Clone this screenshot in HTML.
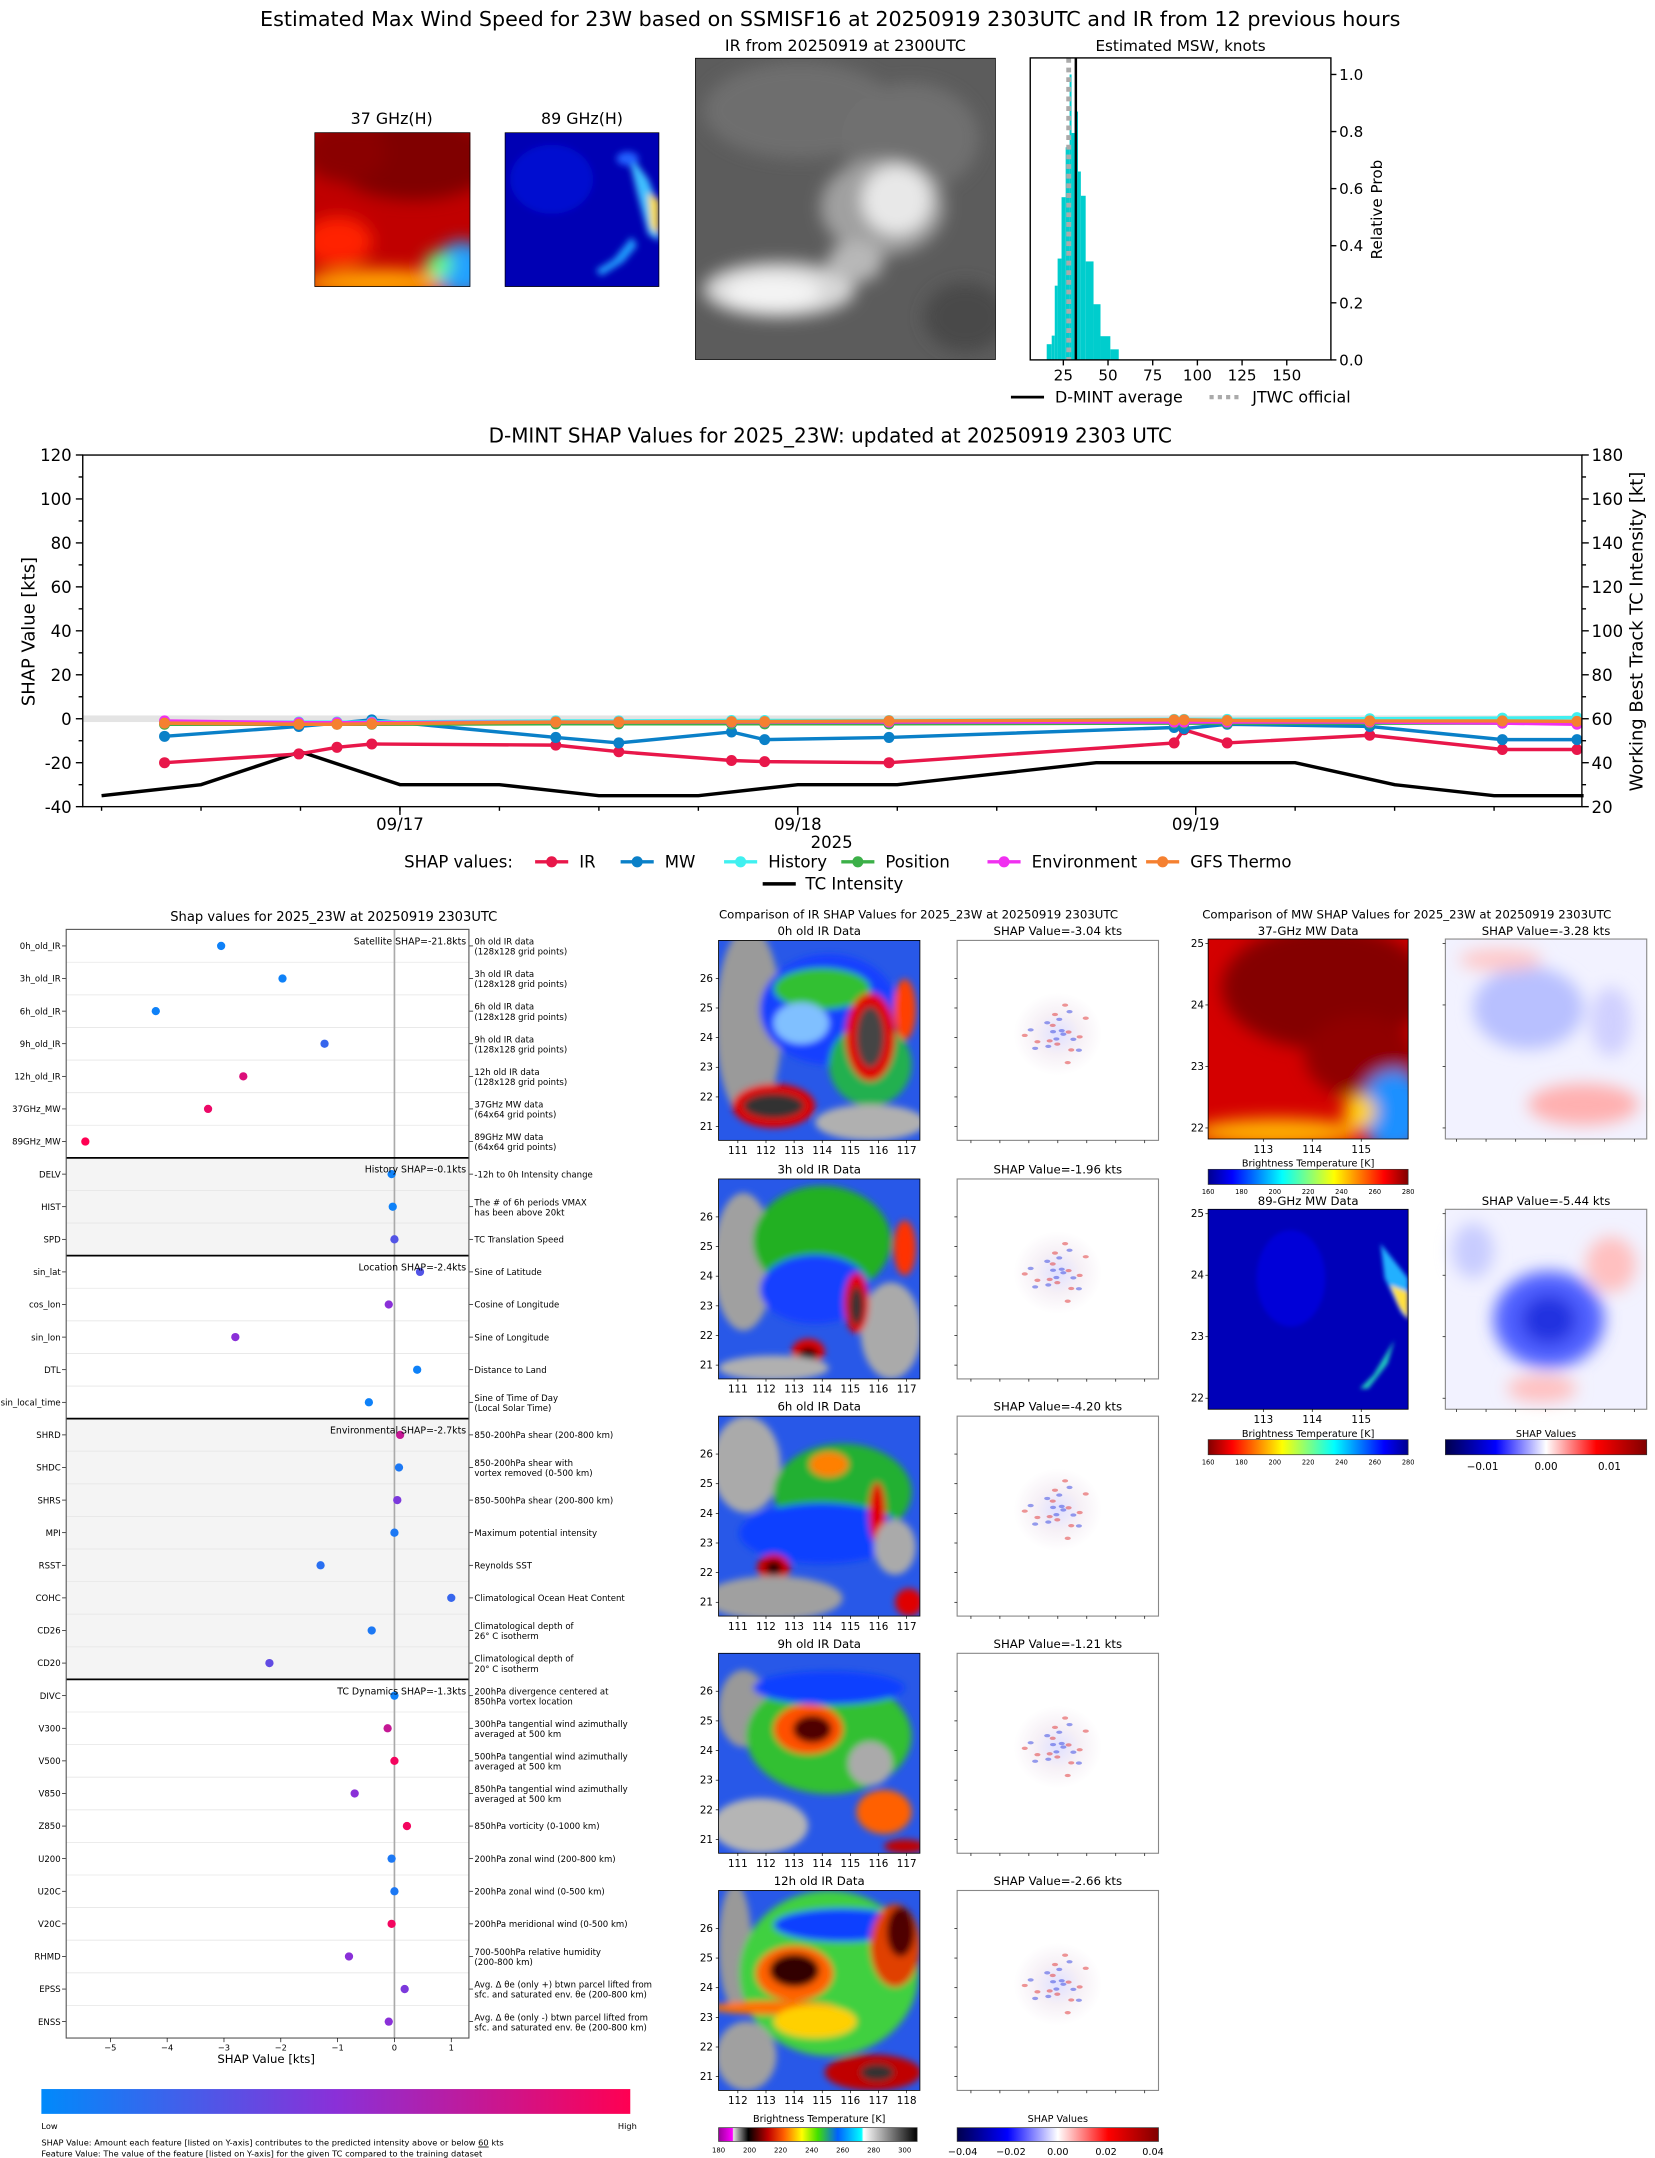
<!DOCTYPE html>
<html><head><meta charset="utf-8"><style>
html,body{margin:0;padding:0;background:#fff;}
svg{display:block;font-family:"DejaVu Sans","Liberation Sans",sans-serif;}
</style></head><body>
<svg id="fig" width="1655" height="2158" viewBox="0 0 1200 1565" preserveAspectRatio="none" xmlns="http://www.w3.org/2000/svg">
<defs>
<filter id="b3" x="-20%" y="-20%" width="140%" height="140%"><feGaussianBlur stdDeviation="2.5"/></filter>
<filter id="b6" x="-30%" y="-30%" width="160%" height="160%"><feGaussianBlur stdDeviation="6"/></filter>
<filter id="b2"><feGaussianBlur stdDeviation="1.5"/></filter>
<linearGradient id="jet" x1="0" x2="1"><stop offset="0" stop-color="#00008f"/><stop offset=".12" stop-color="#0000ff"/><stop offset=".37" stop-color="#00ffff"/><stop offset=".5" stop-color="#80ff80"/><stop offset=".63" stop-color="#ffff00"/><stop offset=".88" stop-color="#ff0000"/><stop offset="1" stop-color="#800000"/></linearGradient>
<linearGradient id="jetr" x1="1" x2="0"><stop offset="0" stop-color="#00008f"/><stop offset=".12" stop-color="#0000ff"/><stop offset=".37" stop-color="#00ffff"/><stop offset=".5" stop-color="#80ff80"/><stop offset=".63" stop-color="#ffff00"/><stop offset=".88" stop-color="#ff0000"/><stop offset="1" stop-color="#800000"/></linearGradient>
<linearGradient id="seis" x1="0" x2="1"><stop offset="0" stop-color="#00004c"/><stop offset=".25" stop-color="#0000ff"/><stop offset=".5" stop-color="#ffffff"/><stop offset=".75" stop-color="#ff0000"/><stop offset="1" stop-color="#800000"/></linearGradient>
<linearGradient id="irc" x1="0" x2="1"><stop offset="0" stop-color="#9a009a"/><stop offset=".07" stop-color="#ff00ff"/><stop offset=".075" stop-color="#e0e0e0"/><stop offset=".15" stop-color="#000"/><stop offset=".25" stop-color="#c00000"/><stop offset=".33" stop-color="#ff6000"/><stop offset=".42" stop-color="#ffff00"/><stop offset=".5" stop-color="#40e000"/><stop offset=".6" stop-color="#0060ff"/><stop offset=".72" stop-color="#00ffff"/><stop offset=".73" stop-color="#ffffff"/><stop offset="1" stop-color="#000"/></linearGradient>
<linearGradient id="scat" x1="0" x2="1"><stop offset="0" stop-color="#008afb"/><stop offset=".5" stop-color="#8a30d8"/><stop offset="1" stop-color="#ff0052"/></linearGradient>
<radialGradient id="shapc"><stop offset="0" stop-color="#e0e0ff"/><stop offset=".5" stop-color="#f6f0f6"/><stop offset="1" stop-color="#fff"/></radialGradient>
<clipPath id="c37"><rect x="228" y="96" width="113" height="112"/></clipPath>
<clipPath id="c89"><rect x="366" y="96" width="112" height="112"/></clipPath>
<clipPath id="cir"><rect x="504" y="42" width="218" height="219"/></clipPath>
</defs>
<rect width="1200" height="1565" fill="#fff"/>
<text x="602" y="19" font-size="15" text-anchor="middle">Estimated Max Wind Speed for 23W based on SSMISF16 at 20250919 2303UTC and IR from 12 previous hours</text>

<text x="284" y="90" font-size="11.5" text-anchor="middle">37 GHz(H)</text>
<g clip-path="url(#c37)">
<rect x="228" y="96" width="113" height="112" fill="#c00000"/>
<g filter="url(#b6)">
<ellipse cx="300" cy="115" rx="60" ry="30" fill="#800000"/>
<ellipse cx="250" cy="110" rx="30" ry="22" fill="#8a0000"/>
<ellipse cx="245" cy="175" rx="25" ry="18" fill="#ff2000"/>
<ellipse cx="275" cy="205" rx="55" ry="10" fill="#ffa000"/>
<ellipse cx="335" cy="195" rx="20" ry="20" fill="#20a0ff"/>
<ellipse cx="318" cy="192" rx="10" ry="9" fill="#60ff80"/>
</g>
<rect x="228" y="96" width="113" height="112" fill="none" stroke="#000" stroke-width="1"/>
</g>
<text x="422" y="90" font-size="11.5" text-anchor="middle">89 GHz(H)</text>
<g clip-path="url(#c89)">
<rect x="366" y="96" width="112" height="112" fill="#0000b4"/>
<g filter="url(#b3)">
<ellipse cx="400" cy="130" rx="30" ry="25" fill="#0010d0"/>
<path d="M455 110 L470 130 L478 150 L478 175 L470 170 L462 140 Z" fill="#40c0ff"/>
<path d="M470 140 L478 145 L478 170 L472 165 Z" fill="#ffe040"/>
<path d="M458 172 L445 188 L432 196 L436 200 L452 190 L462 178 Z" fill="#20a0ff"/>
<ellipse cx="455" cy="115" rx="8" ry="5" fill="#2060ff"/>
</g>
<rect x="366" y="96" width="112" height="112" fill="none" stroke="#000" stroke-width="1"/>
</g>
<text x="613" y="37" font-size="11.5" text-anchor="middle">IR from 20250919 at 2300UTC</text>
<g clip-path="url(#cir)">
<rect x="504" y="42" width="218" height="219" fill="#5c5c5c"/>
<g filter="url(#b6)">
<ellipse cx="580" cy="80" rx="70" ry="35" fill="#6e6e6e"/>
<ellipse cx="660" cy="100" rx="50" ry="40" fill="#707070"/>
<ellipse cx="640" cy="150" rx="45" ry="35" fill="#a0a0a0"/>
<ellipse cx="650" cy="145" rx="25" ry="25" fill="#e8e8e8"/>
<ellipse cx="565" cy="210" rx="55" ry="20" fill="#d8d8d8"/>
<ellipse cx="560" cy="212" rx="35" ry="12" fill="#f4f4f4"/>
<ellipse cx="620" cy="190" rx="20" ry="15" fill="#b8b8b8"/>
<ellipse cx="700" cy="230" rx="30" ry="25" fill="#4a4a4a"/>
</g>
<rect x="504" y="42" width="218" height="219" fill="none" stroke="#000" stroke-width="1"/>
</g>
<text x="856" y="37" font-size="11" text-anchor="middle">Estimated MSW, knots</text>
<g id="hist"></g>
<text transform="translate(1002,152) rotate(-90)" font-size="11" text-anchor="middle">Relative Prob</text>
<g>
<line x1="733" y1="288" x2="757" y2="288" stroke="#000" stroke-width="2"/>
<text x="765" y="292" font-size="11.5">D-MINT average</text>
<line x1="877" y1="288" x2="900" y2="288" stroke="#aaa" stroke-width="3" stroke-dasharray="3,3"/>
<text x="908" y="292" font-size="11.5">JTWC official</text>
</g>

<text x="602" y="321" font-size="14.5" text-anchor="middle">D-MINT SHAP Values for 2025_23W: updated at 20250919 2303 UTC</text>
<g id="ts"></g>
<text transform="translate(25,458) rotate(-90)" font-size="13" text-anchor="middle">SHAP Value [kts]</text>
<text transform="translate(1191,458) rotate(-90)" font-size="13" text-anchor="middle">Working Best Track TC Intensity [kt]</text>
<text x="603" y="615" font-size="12" text-anchor="middle">2025</text>
<g id="tsleg"></g>

<text x="242" y="668" font-size="9.5" text-anchor="middle">Shap values for 2025_23W at 20250919 2303UTC</text>
<g id="feat"></g>
<text x="193" y="1496" font-size="8.5" text-anchor="middle">SHAP Value [kts]</text>
<rect x="30" y="1515" width="427" height="18" fill="url(#scat)"/>
<text x="30" y="1544" font-size="6">Low</text>
<text x="448" y="1544" font-size="6">High</text>
<text x="30" y="1556" font-size="6">SHAP Value: Amount each feature [listed on Y-axis] contributes to the predicted intensity above or below <tspan text-decoration="underline">60</tspan> kts</text>
<text x="30" y="1564" font-size="6">Feature Value: The value of the feature [listed on Y-axis] for the given TC compared to the training dataset</text>

<text x="666" y="666" font-size="8.5" text-anchor="middle">Comparison of IR SHAP Values for 2025_23W at 20250919 2303UTC</text>
<g id="irpanels"></g>
<text x="594" y="1539" font-size="7" text-anchor="middle">Brightness Temperature [K]</text>
<rect x="521" y="1543" width="144" height="10" fill="url(#irc)" stroke="#333" stroke-width=".5"/>
<g id="ircbt" font-size="5" text-anchor="middle"></g>
<text x="767" y="1539" font-size="7" text-anchor="middle">SHAP Values</text>
<rect x="694" y="1543" width="146" height="10" fill="url(#seis)" stroke="#333" stroke-width=".5"/>
<g font-size="7" text-anchor="middle">
<text x="698" y="1563">−0.04</text><text x="733" y="1563">−0.02</text><text x="767" y="1563">0.00</text><text x="802" y="1563">0.02</text><text x="836" y="1563">0.04</text></g>

<text x="1020" y="666" font-size="8.5" text-anchor="middle">Comparison of MW SHAP Values for 2025_23W at 20250919 2303UTC</text>
<g id="mwpanels"></g>
</svg>
<script>
const NS='http://www.w3.org/2000/svg';
function mk(p,tag,a,txt){const e=document.createElementNS(NS,tag);for(const k in a)e.setAttribute(k,a[k]);if(txt!==undefined)e.textContent=txt;p.appendChild(e);return e;}

/* ---------- histogram data ---------- */
const histEdges=[15.7,18.5,20.2,21.8,24,26.3,28.5,29.6,31.4,33.2,34.8,37.5,41.9,45.8,51.3,56];
const histProb=[0.055,0.085,0.26,0.355,0.57,0.745,1.0,0.795,0.87,0.66,0.575,0.345,0.195,0.083,0.037];
const histXTicks=[25,50,75,100,125,150];
const histYTicks=[0,0.2,0.4,0.6,0.8,1.0];
const dmintAvg=32;
const jtwcOfficial=28;
(function(){
 const g=document.getElementById('hist');
 const X=v=>738.6+v*1.296, Y=v=>261-v*207;
 for(let i=0;i<histProb.length;i++){
  const r=mk(g,'rect',{x:X(histEdges[i]),y:Y(histProb[i]),width:X(histEdges[i+1])-X(histEdges[i]),height:261-Y(histProb[i]),fill:'#00cdcd'});
  
  
 }
 const jl=mk(g,'line',{x1:X(jtwcOfficial),x2:X(jtwcOfficial),y1:42,y2:261,stroke:'#aaa','stroke-width':3.5,'stroke-dasharray':'3.5,3.5'});
 
 
 const dl=mk(g,'line',{x1:X(dmintAvg),x2:X(dmintAvg),y1:42,y2:261,stroke:'#000','stroke-width':1.8});
 
 
 mk(g,'rect',{x:747,y:42,width:218,height:219,fill:'none',stroke:'#000','stroke-width':1});
 histXTicks.forEach(t=>{mk(g,'line',{x1:X(t),x2:X(t),y1:261,y2:265,stroke:'#000'});
  const tx=mk(g,'text',{x:X(t),y:276,'font-size':11,'text-anchor':'middle'},String(t));
  
  });
 histYTicks.forEach(t=>{mk(g,'line',{x1:965,x2:969,y1:Y(t),y2:Y(t),stroke:'#000'});
  const tx=mk(g,'text',{x:971,y:Y(t)+4,'font-size':11},t.toFixed(1));
  
  });
})();

/* ---------- time series data ---------- */
const tsHours=[9.8,17.9,20.2,22.3,33.4,37.2,44.0,46.0,53.5,70.7,71.3,73.9,82.5,90.5,95.0];
const shapIR=[-20,-16,-13,-11.5,-12,-15,-19,-19.5,-20,-11,-5,-11,-7.5,-14,-14];
const shapMW=[-8,-3.5,-2,-0.5,-8.5,-11,-6,-9.5,-8.5,-4,-4.5,-2.5,-3.5,-9.5,-9.5];
const shapHist=[-1.5,-1.5,-1.5,-1.5,-1,-1,-0.8,-0.8,-0.8,-0.3,-0.3,-0.3,0,0.3,0.5];
const shapPos=[-2.5,-2.5,-2.5,-2.5,-2.3,-2.3,-2.3,-2.3,-2.3,-2,-2,-2,-2,-2,-2];
const shapEnv=[-1,-1.8,-1.8,-1.8,-1.5,-1.5,-1.5,-1.5,-1.5,-1.5,-1.5,-1.5,-1.5,-2,-2.5];
const shapGFS=[-2,-2.5,-2.5,-2.3,-1.5,-1.5,-1.3,-1.3,-1,-0.5,-0.5,-0.8,-1,-1,-1.2];
const tcHours=[6,12,18,24,30,36,42,48,54,60,66,72,78,84,90,95.4];
const tcIntensity=[25,30,45,30,30,25,25,30,30,35,40,40,40,30,25,25];
const leftTicks=[-40,-20,0,20,40,60,80,100,120];
const rightTicks=[20,40,60,80,100,120,140,160,180];
const dateTicks=[[24,'09/17'],[48,'09/18'],[72,'09/19']];
const seriesNames=['IR','MW','History','Position','Environment','GFS Thermo'];
const seriesColors=['#e8174a','#0a80c8','#40f0f0','#3cb048','#f030f0','#f58030'];
(function(){
 const g=document.getElementById('ts');
 const X=h=>290+(h-24)*12.02, Y=v=>585-(v+40)*1.594, YR=v=>Y(v-60);
 mk(g,'rect',{x:60,y:Y(1.5),width:1087,height:Y(-1.5)-Y(1.5),fill:'#e4e4e4'});
 const tc=mk(g,'polyline',{points:tcHours.map((h,i)=>X(h)+','+YR(tcIntensity[i])).join(' '),fill:'none',stroke:'#000','stroke-width':2.5});
 
 
 const all=[shapIR,shapMW,shapHist,shapPos,shapEnv,shapGFS];
 all.forEach((s,k)=>{
  const ln=mk(g,'polyline',{points:tsHours.map((h,i)=>X(h)+','+Y(s[i])).join(' '),fill:'none',stroke:seriesColors[k],'stroke-width':2.5});
  
  
  tsHours.forEach((h,i)=>{const c=mk(g,'circle',{cx:X(h),cy:Y(s[i]),r:4,fill:seriesColors[k]});
   
   });
 });
 mk(g,'rect',{x:60,y:330,width:1087,height:255,fill:'none',stroke:'#000','stroke-width':1});
 leftTicks.forEach(t=>{mk(g,'line',{x1:55,x2:60,y1:Y(t),y2:Y(t),stroke:'#000'});
  const tx=mk(g,'text',{x:52,y:Y(t)+4.5,'font-size':12,'text-anchor':'end'},String(t));
  
  });
 for(let v=-30;v<120;v+=20){mk(g,'line',{x1:57,x2:60,y1:Y(v),y2:Y(v),stroke:'#000'});}
 rightTicks.forEach(t=>{mk(g,'line',{x1:1147,x2:1152,y1:YR(t),y2:YR(t),stroke:'#000'});
  const tx=mk(g,'text',{x:1154,y:YR(t)+4.5,'font-size':12},String(t));
  
  });
 for(let v=30;v<180;v+=20){mk(g,'line',{x1:1147,x2:1150,y1:YR(v),y2:YR(v),stroke:'#000'});}
 for(let h=6;h<96;h+=6){mk(g,'line',{x1:X(h),x2:X(h),y1:585,y2:588,stroke:'#000'});}
 dateTicks.forEach(d=>{mk(g,'line',{x1:X(d[0]),x2:X(d[0]),y1:585,y2:591,stroke:'#000'});
  const tx=mk(g,'text',{x:X(d[0]),y:602,'font-size':12,'text-anchor':'middle'},d[1]);
  
  });
 const L=document.getElementById('tsleg');
 mk(L,'text',{x:293,y:629,'font-size':12},'SHAP values:');
 const lx=[388,450,525,610,716,831];
 seriesNames.forEach((n,k)=>{
  mk(L,'line',{x1:lx[k],x2:lx[k]+24,y1:625,y2:625,stroke:seriesColors[k],'stroke-width':2.5});
  mk(L,'circle',{cx:lx[k]+12,cy:625,r:4,fill:seriesColors[k]});
  const t=mk(L,'text',{x:lx[k]+32,y:629,'font-size':12},n);
  
  
 });
 mk(L,'line',{x1:553,x2:577,y1:641,y2:641,stroke:'#000','stroke-width':2.5});
 mk(L,'text',{x:584,y:645,'font-size':12},'TC Intensity');
})();

/* ---------- feature SHAP data ---------- */
const featNames=['0h_old_IR','3h_old_IR','6h_old_IR','9h_old_IR','12h_old_IR','37GHz_MW','89GHz_MW','DELV','HIST','SPD','sin_lat','cos_lon','sin_lon','DTL','sin_local_time','SHRD','SHDC','SHRS','MPI','RSST','COHC','CD26','CD20','DIVC','V300','V500','V850','Z850','U200','U20C','V20C','RHMD','EPSS','ENSS'];
const featShap=[-3.05,-1.97,-4.2,-1.23,-2.66,-3.28,-5.44,-0.05,-0.03,0,0.45,-0.1,-2.8,0.4,-0.45,0.1,0.08,0.05,0,-1.3,1.0,-0.4,-2.2,0,-0.12,0,-0.7,0.22,-0.05,0,-0.05,-0.8,0.18,-0.1];
const featValue=[0.05,0.05,0.05,0.2,0.85,0.92,1.0,0.05,0.05,0.3,0.3,0.5,0.5,0.05,0.05,0.75,0.1,0.45,0.1,0.15,0.2,0.1,0.35,0.05,0.75,0.95,0.5,0.95,0.1,0.1,0.95,0.5,0.45,0.5];
const featDesc=['0h old IR data|(128x128 grid points)','3h old IR data|(128x128 grid points)','6h old IR data|(128x128 grid points)','9h old IR data|(128x128 grid points)','12h old IR data|(128x128 grid points)','37GHz MW data|(64x64 grid points)','89GHz MW data|(64x64 grid points)','-12h to 0h Intensity change','The # of 6h periods VMAX|has been above 20kt','TC Translation Speed','Sine of Latitude','Cosine of Longitude','Sine of Longitude','Distance to Land','Sine of Time of Day|(Local Solar Time)','850-200hPa shear (200-800 km)','850-200hPa shear with|vortex removed (0-500 km)','850-500hPa shear (200-800 km)','Maximum potential intensity','Reynolds SST','Climatological Ocean Heat Content','Climatological depth of|26° C isotherm','Climatological depth of|20° C isotherm','200hPa divergence centered at|850hPa vortex location','300hPa tangential wind azimuthally|averaged at 500 km','500hPa tangential wind azimuthally|averaged at 500 km','850hPa tangential wind azimuthally|averaged at 500 km','850hPa vorticity (0-1000 km)','200hPa zonal wind (200-800 km)','200hPa zonal wind (0-500 km)','200hPa meridional wind (0-500 km)','700-500hPa relative humidity|(200-800 km)','Avg. Δ θe (only +) btwn parcel lifted from|sfc. and saturated env. θe (200-800 km)','Avg. Δ θe (only -) btwn parcel lifted from|sfc. and saturated env. θe (200-800 km)'];
const groupNames=['Satellite SHAP=-21.8kts','History SHAP=-0.1kts','Location SHAP=-2.4kts','Environmental SHAP=-2.7kts','TC Dynamics SHAP=-1.3kts'];
const groupStart=[0,7,10,15,23];
const featXTicks=[-5,-4,-3,-2,-1,0,1];
function lerpC(a,b,t){return a.map((v,i)=>Math.round(v+(b[i]-v)*t));}
function scatCol(t){const c0=[0,138,251],c1=[138,48,216],c2=[255,0,82];const c=t<.5?lerpC(c0,c1,t*2):lerpC(c1,c2,(t-.5)*2);return 'rgb('+c.join(',')+')';}
(function(){
 const g=document.getElementById('feat');
 const X=v=>286+v*41.2, Y=i=>686+i*23.64;
 const top=674,bot=1478;
 [1,3].forEach(p=>{const a=groupStart[p],b=groupStart[p+1];
  mk(g,'rect',{x:48,y:Y(a)-11.8,width:292,height:(b-a)*23.64,fill:'#f4f4f4'});});
 featNames.forEach((n,i)=>{
  if(i>0)mk(g,'line',{x1:48,x2:340,y1:Y(i)-11.8,y2:Y(i)-11.8,stroke:'#e6e6e6','stroke-width':.6});
  mk(g,'line',{x1:45,x2:48,y1:Y(i),y2:Y(i),stroke:'#000','stroke-width':.5});
  const t=mk(g,'text',{x:44,y:Y(i)+2.3,'font-size':6.2,'text-anchor':'end'},n);
  
  
  mk(g,'line',{x1:340,x2:343,y1:Y(i),y2:Y(i),stroke:'#000','stroke-width':.5});
  const d=featDesc[i].split('|');
  if(d.length==1){mk(g,'text',{x:344,y:Y(i)+2.3,'font-size':6.2},d[0]);}
  else{mk(g,'text',{x:344,y:Y(i)-1,'font-size':6.2},d[0]);mk(g,'text',{x:344,y:Y(i)+6.3,'font-size':6.2},d[1]);}
 });
 mk(g,'line',{x1:X(0),x2:X(0),y1:top,y2:bot,stroke:'#aaa','stroke-width':1.2});
 featNames.forEach((n,i)=>{
  const c=mk(g,'circle',{cx:X(featShap[i]),cy:Y(i),r:3,fill:scatCol(featValue[i])});
  
  
 });
 groupStart.forEach((s,k)=>{
  if(k>0)mk(g,'line',{x1:48,x2:340,y1:Y(s)-11.8,y2:Y(s)-11.8,stroke:'#000','stroke-width':1.3});
  const t=mk(g,'text',{x:338,y:Y(s)-1,'font-size':6.8,'text-anchor':'end'},groupNames[k]);
  
  
 });
 mk(g,'rect',{x:48,y:top,width:292,height:bot-top,fill:'none',stroke:'#555','stroke-width':.8});
 featXTicks.forEach(t=>{mk(g,'line',{x1:X(t),x2:X(t),y1:bot,y2:bot+3,stroke:'#000','stroke-width':.5});
  const tx=mk(g,'text',{x:X(t),y:bot+9,'font-size':6,'text-anchor':'middle'},t<0?'−'+(-t):String(t));
  
  });
})();

/* ---------- IR comparison panels ---------- */
const irTitles=['0h old IR Data','3h old IR Data','6h old IR Data','9h old IR Data','12h old IR Data'];
const irShapTitles=['SHAP Value=-3.04 kts','SHAP Value=-1.96 kts','SHAP Value=-4.20 kts','SHAP Value=-1.21 kts','SHAP Value=-2.66 kts'];
const irLonTicks=[[111,112,113,114,115,116,117],[111,112,113,114,115,116,117],[111,112,113,114,115,116,117],[111,112,113,114,115,116,117],[112,113,114,115,116,117,118]];
const irLatTicks=[21,22,23,24,25,26];
const irRowY=[682,855,1027,1199,1371];
const irBlobs=[
 [[22,60,24,70,'#9a9a9a'],[80,50,50,40,'#1840ff'],[75,35,35,15,'#30c030'],[110,90,30,30,'#20b050'],[40,120,30,16,'#e00000'],[40,120,22,9,'#333'],[110,70,18,32,'#e00000'],[110,70,10,22,'#444'],[110,132,40,13,'#b0b0b0'],[135,50,8,22,'#ff4000'],[60,60,20,15,'#80c0ff']],
 [[18,60,22,50,'#a0a0a0'],[75,45,50,40,'#20b020'],[70,80,40,25,'#1840ff'],[125,110,22,35,'#aaa'],[100,90,9,22,'#e00000'],[100,92,5,14,'#333'],[65,125,12,9,'#e00000'],[65,127,7,5,'#300000'],[40,137,40,9,'#b0b0b0'],[135,50,8,20,'#ff3000']],
 [[20,35,25,35,'#aaa'],[90,55,50,35,'#20b030'],[75,85,60,22,'#1040ff'],[80,35,14,9,'#ff8000'],[115,70,6,22,'#e00000'],[40,110,12,10,'#d00000'],[40,110,6,5,'#200000'],[40,132,50,16,'#a0a0a0'],[128,95,15,20,'#aaa'],[138,135,10,10,'#e00000']],
 [[18,40,18,28,'#999'],[80,60,60,42,'#30c030'],[80,25,55,12,'#1040ff'],[65,55,25,18,'#ff5000'],[68,55,14,10,'#500000'],[110,80,16,16,'#aaa'],[30,125,35,20,'#b5b5b5'],[120,115,20,16,'#ff6000'],[135,140,15,5,'#c00000']],
 [[12,40,12,45,'#999'],[80,60,65,60,'#40d040'],[90,25,50,12,'#1040ff'],[55,60,28,20,'#ff6000'],[55,58,18,12,'#300000'],[40,85,45,5,'#ff7000'],[128,40,18,30,'#e04000'],[132,30,10,18,'#500000'],[112,132,35,13,'#c00000'],[115,132,12,6,'#333'],[20,120,22,25,'#a0a0a0'],[70,95,30,12,'#ffd000']]
];
(function(){
 const g=document.getElementById('irpanels');
 irRowY.forEach((y0,k)=>{
  const x0=521,w=146,h=145;
  mk(g,'text',{x:x0+w/2,y:y0-4,'font-size':8.5,'text-anchor':'middle'},irTitles[k]);
  const cp=mk(g,'clipPath',{id:'irp'+k});mk(cp,'rect',{x:x0,y:y0,width:w,height:h});
  const pg=mk(g,'g',{'clip-path':'url(#irp'+k+')'});
  
  
  mk(pg,'rect',{x:x0,y:y0,width:w,height:h,fill:'#2858e8'});
  const bg=mk(pg,'g',{filter:'url(#b3)'});
  irBlobs[k].forEach(b=>mk(bg,'ellipse',{cx:x0+b[0],cy:y0+b[1],rx:b[2],ry:b[3],fill:b[4]}));
  mk(g,'rect',{x:x0,y:y0,width:w,height:h,fill:'none',stroke:'#000','stroke-width':.6});
  irLonTicks[k].forEach((t,i)=>{const xx=x0+14+i*20.4;mk(g,'line',{x1:xx,x2:xx,y1:y0+h,y2:y0+h+2,stroke:'#000','stroke-width':.5});
   mk(g,'text',{x:xx,y:y0+h+10,'font-size':7.5,'text-anchor':'middle'},String(t));});
  irLatTicks.forEach((t,i)=>{const yy=y0+h-10-i*21.5;mk(g,'line',{x1:x0-2,x2:x0,y1:yy,y2:yy,stroke:'#000','stroke-width':.5});
   mk(g,'text',{x:x0-4,y:yy+2.5,'font-size':7.5,'text-anchor':'end'},String(t));});
  const sx=694;
  mk(g,'text',{x:sx+w/2,y:y0-4,'font-size':8.5,'text-anchor':'middle'},irShapTitles[k]);
  const sp=mk(g,'g',{});
  
  
  mk(sp,'rect',{x:sx,y:y0,width:w,height:h,fill:'#fff'});
  mk(sp,'ellipse',{cx:sx+73,cy:y0+68,rx:32,ry:30,fill:'url(#shapc)'});
  for(let j=0;j<24;j++){const a=j*2.4,r=4+(j%6)*4;
   mk(sp,'ellipse',{cx:sx+73+Math.cos(a)*r,cy:y0+68+Math.sin(a)*r*0.9,rx:2.2,ry:1.2,fill:j%2?'#e03030':'#3040e0',opacity:.5});}
  mk(sp,'rect',{x:sx,y:y0,width:w,height:h,fill:'none',stroke:'#888','stroke-width':.8});
  for(let i=0;i<7;i++){const xx=sx+10+i*21;mk(sp,'line',{x1:xx,x2:xx,y1:y0+h,y2:y0+h+2,stroke:'#000','stroke-width':.5});}
  for(let i=0;i<6;i++){const yy=y0+h-10-i*21.5;mk(sp,'line',{x1:sx-2,x2:sx,y1:yy,y2:yy,stroke:'#000','stroke-width':.5});}
 });
 const ct=document.getElementById('ircbt');
 [180,200,220,240,260,280,300].forEach((t,i)=>mk(ct,'text',{x:521+i*22.5,y:1561},String(t)));
})();

/* ---------- MW comparison panels ---------- */
const mwTitles=['37-GHz MW Data','89-GHz MW Data'];
const mwShapTitles=['SHAP Value=-3.28 kts','SHAP Value=-5.44 kts'];
const mwLonTicks=[113,114,115];
const mwLatTicks=[22,23,24,25];
const mwCbarTicks=[160,180,200,220,240,260,280];
const mwRowY=[681,877];
(function(){
 const g=document.getElementById('mwpanels');
 mwRowY.forEach((y0,k)=>{
  const x0=876,w=145,h=145;
  mk(g,'text',{x:x0+w/2,y:y0-3,'font-size':8.5,'text-anchor':'middle'},mwTitles[k]);
  const cp=mk(g,'clipPath',{id:'mwp'+k});mk(cp,'rect',{x:x0,y:y0,width:w,height:h});
  const pg=mk(g,'g',{'clip-path':'url(#mwp'+k+')'});
  
  
  if(k==0){
   mk(pg,'rect',{x:x0,y:y0,width:w,height:h,fill:'#d40000'});
   const bg=mk(pg,'g',{filter:'url(#b6)'});
   mk(bg,'ellipse',{cx:x0+85,cy:y0+35,rx:75,ry:45,fill:'#840000'});
   mk(bg,'ellipse',{cx:x0+110,cy:y0+85,rx:40,ry:30,fill:'#900000'});
   mk(bg,'ellipse',{cx:x0+50,cy:y0+140,rx:60,ry:10,fill:'#ffb000'});
   mk(bg,'ellipse',{cx:x0+135,cy:y0+125,rx:25,ry:30,fill:'#1e90ff'});
   mk(bg,'ellipse',{cx:x0+110,cy:y0+125,rx:12,ry:12,fill:'#ffd000'});
  }else{
   mk(pg,'rect',{x:x0,y:y0,width:w,height:h,fill:'#0000b8'});
   const bg=mk(pg,'g',{filter:'url(#b2)'});
   mk(bg,'path',{d:'M'+(x0+125)+' '+(y0+25)+' L'+(x0+145)+' '+(y0+50)+' L'+(x0+145)+' '+(y0+80)+' L'+(x0+140)+' '+(y0+75)+' L'+(x0+128)+' '+(y0+50)+' Z',fill:'#20b0ff'});
   mk(bg,'path',{d:'M'+(x0+132)+' '+(y0+55)+' L'+(x0+145)+' '+(y0+60)+' L'+(x0+145)+' '+(y0+80)+' L'+(x0+138)+' '+(y0+70)+' Z',fill:'#ffe040'});
   mk(bg,'path',{d:'M'+(x0+135)+' '+(y0+95)+' L'+(x0+120)+' '+(y0+120)+' L'+(x0+110)+' '+(y0+130)+' L'+(x0+116)+' '+(y0+130)+' L'+(x0+130)+' '+(y0+112)+' Z',fill:'#20d0c0'});
   mk(bg,'ellipse',{cx:x0+60,cy:y0+50,rx:25,ry:35,fill:'#0000d8'});
  }
  mk(g,'rect',{x:x0,y:y0,width:w,height:h,fill:'none',stroke:'#000','stroke-width':.6});
  mwLonTicks.forEach((t,i)=>{const xx=x0+40+i*35.5;mk(g,'line',{x1:xx,x2:xx,y1:y0+h,y2:y0+h+2,stroke:'#000','stroke-width':.5});
   mk(g,'text',{x:xx,y:y0+h+10,'font-size':7.5,'text-anchor':'middle'},String(t));});
  mwLatTicks.forEach((t,i)=>{const yy=y0+h-8-i*44.6;mk(g,'line',{x1:x0-2,x2:x0,y1:yy,y2:yy,stroke:'#000','stroke-width':.5});
   mk(g,'text',{x:x0-3,y:yy+2.5,'font-size':7.5,'text-anchor':'end'},String(t));});
  mk(g,'text',{x:x0+w/2,y:y0+h+20,'font-size':7,'text-anchor':'middle'},'Brightness Temperature [K]');
  const cb=mk(g,'rect',{x:x0,y:y0+h+22,width:w,height:11,fill:k==0?'url(#jet)':'url(#jetr)',stroke:'#333','stroke-width':.5});
  
  
  mwCbarTicks.forEach((t,i)=>mk(g,'text',{x:x0+i*w/6,y:y0+h+40,'font-size':4.8,'text-anchor':'middle'},String(t)));
  const sx=1048;
  mk(g,'text',{x:sx+73,y:y0-3,'font-size':8.5,'text-anchor':'middle'},mwShapTitles[k]);
  const sp=mk(g,'g',{});
  
  
  mk(sp,'rect',{x:sx,y:y0,width:146,height:h,fill:'#f2f2ff'});
  const sb=mk(sp,'g',{filter:'url(#b6)'});
  if(k==0){
   mk(sb,'ellipse',{cx:sx+60,cy:y0+50,rx:40,ry:30,fill:'#b8c0ff'});
   mk(sb,'ellipse',{cx:sx+100,cy:y0+120,rx:40,ry:15,fill:'#ffb0b0'});
   mk(sb,'ellipse',{cx:sx+40,cy:y0+15,rx:30,ry:8,fill:'#ffc8c8'});
   mk(sb,'ellipse',{cx:sx+120,cy:y0+60,rx:15,ry:25,fill:'#d0d0ff'});
  }else{
   mk(sb,'ellipse',{cx:sx+75,cy:y0+80,rx:40,ry:35,fill:'#5060ff'});
   mk(sb,'ellipse',{cx:sx+75,cy:y0+80,rx:20,ry:18,fill:'#2030e0'});
   mk(sb,'ellipse',{cx:sx+120,cy:y0+40,rx:18,ry:20,fill:'#ffc0c0'});
   mk(sb,'ellipse',{cx:sx+70,cy:y0+130,rx:25,ry:10,fill:'#ffc0c0'});
   mk(sb,'ellipse',{cx:sx+20,cy:y0+30,rx:15,ry:20,fill:'#c8ccff'});
  }
  mk(sp,'rect',{x:sx,y:y0,width:146,height:h,fill:'none',stroke:'#888','stroke-width':.8});
  for(let i=0;i<7;i++){const xx=sx+8+i*21.5;mk(sp,'line',{x1:xx,x2:xx,y1:y0+h,y2:y0+h+2,stroke:'#000','stroke-width':.5});}
  for(let i=0;i<4;i++){const yy=y0+h-8-i*44.6;mk(sp,'line',{x1:sx-2,x2:sx,y1:yy,y2:yy,stroke:'#000','stroke-width':.5});}
 });
 const y1=mwRowY[1]+145;
 mk(g,'text',{x:1121,y:y1+20,'font-size':7,'text-anchor':'middle'},'SHAP Values');
 const sc=mk(g,'rect',{x:1048,y:y1+22,width:146,height:11,fill:'url(#seis)',stroke:'#333','stroke-width':.5});
 
 
 [['−0.01',1075],['0.00',1121],['0.01',1167]].forEach(t=>mk(g,'text',{x:t[1],y:y1+44,'font-size':7.5,'text-anchor':'middle'},t[0]));
})();
</script>
</body></html>
